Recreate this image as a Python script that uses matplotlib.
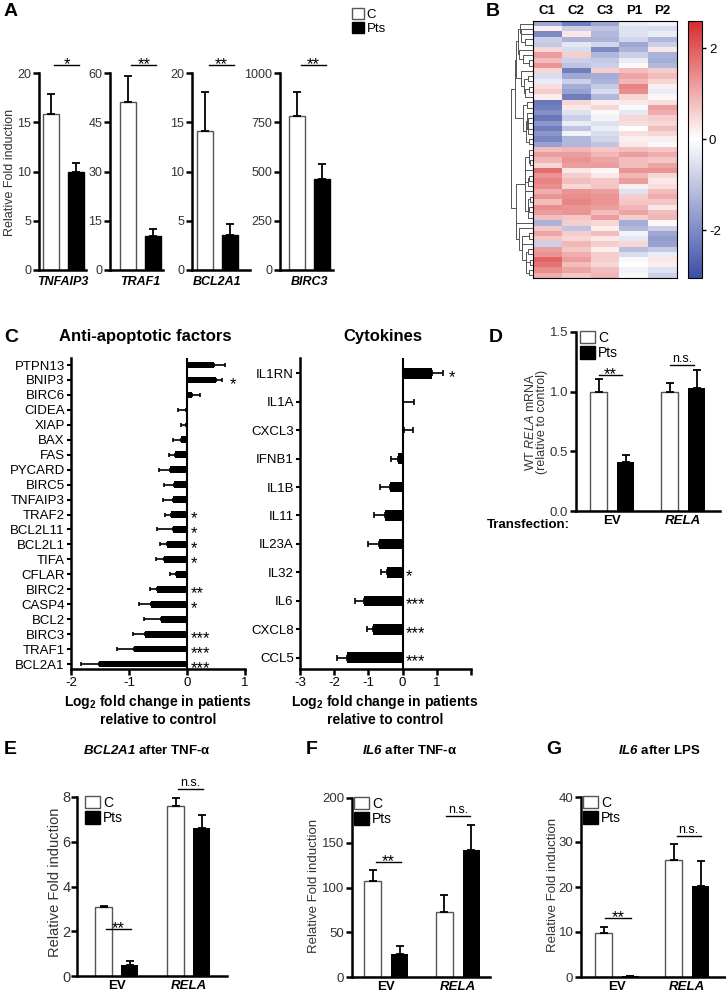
import numpy as np
import matplotlib
matplotlib.use('Agg')
import matplotlib.pyplot as plt
from matplotlib.colors import LinearSegmentedColormap, Normalize
from matplotlib.patches import Patch

plt.rcParams['font.family'] = ['Liberation Sans', 'DejaVu Sans']
plt.rcParams['axes.unicode_minus'] = False
plt.rcParams['mathtext.fontset'] = 'custom'
plt.rcParams['mathtext.rm'] = 'Liberation Sans'
plt.rcParams['mathtext.it'] = 'Liberation Sans:italic'
plt.rcParams['mathtext.bf'] = 'Liberation Sans:bold'
plt.rcParams['mathtext.bfit'] = 'Liberation Sans:italic:bold'

# ---- panel A data
a_genes = ['TNFAIP3', 'TRAF1', 'BCL2A1', 'BIRC3']
a_ctrl = [15.8, 51.3, 14.1, 780]
a_ctrl_err = [2.1, 7.7, 4.0, 125]
a_pts = [10.0, 10.3, 3.6, 460]
a_pts_err = [0.9, 2.2, 1.1, 80]
a_ymax = [20, 60, 20, 1000]
a_sig = ['*', '**', '**', '**']

# ---- panel B data (z-scores, rows top to bottom)
heat_cols = ['C1', 'C2', 'C3', 'P1', 'P2']
heat_rows = [
    [-1.5, -2.2, -1.5, -0.3, -0.2],
    [0.2, -0.8, -1.0, -0.5, -0.6],
    [-2.0, 0.3, -1.2, -0.5, -0.3],
    [-0.8, -1.3, -1.3, -0.7, -1.2],
    [-0.9, -0.4, -0.7, -1.5, -0.8],
    [0.5, -0.6, -2.0, -1.3, 0.3],
    [1.2, 0.6, -1.2, -0.8, -1.3],
    [0.8, -0.8, -0.9, -0.3, -1.4],
    [1.3, -1.0, -0.8, 0.1, -1.2],
    [0.5, -2.2, 0.6, 0.8, 0.6],
    [-0.6, -1.5, -1.4, 1.1, 0.8],
    [-0.3, -0.8, -1.3, 0.9, 0.5],
    [0.4, -1.4, -0.9, 1.5, 0.2],
    [0.6, -1.6, -0.6, 1.4, -0.3],
    [0.2, -2.2, -1.2, 0.5, 0.1],
    [-2.3, 0.5, 0.2, 0.3, 0.4],
    [-2.2, 0.3, 0.5, -0.1, 1.2],
    [-1.9, -0.5, 0.1, -0.4, 1.0],
    [-2.3, -0.8, -0.2, 0.5, 0.6],
    [-1.8, -0.3, -0.5, 0.4, 0.5],
    [-2.2, -1.0, -0.3, 0.0, 0.8],
    [-1.8, -0.2, -0.6, 0.4, 0.5],
    [-2.1, -1.2, -0.7, 0.2, 0.2],
    [-1.6, -1.2, -1.0, 0.3, -0.1],
    [0.8, 0.9, 0.7, 0.8, 0.7],
    [1.2, 1.2, 0.9, 1.2, 1.0],
    [0.9, 1.3, 1.1, 0.8, 0.7],
    [0.5, 1.2, 1.2, 0.8, 1.1],
    [1.8, 0.3, 0.1, 1.3, 1.3],
    [1.3, 0.6, 0.3, 0.9, 0.5],
    [1.5, 0.8, 0.7, 1.2, 0.3],
    [1.4, 0.5, 0.7, 0.2, 0.4],
    [1.0, 1.3, 1.2, -0.5, 0.8],
    [1.3, 1.4, 1.3, 0.6, 1.0],
    [0.8, 1.5, 1.3, 0.7, 0.7],
    [1.4, 1.3, 1.2, 0.9, 0.3],
    [1.2, 1.3, 0.8, 1.1, 0.8],
    [0.8, 0.7, 1.2, 0.6, 0.9],
    [-1.3, 0.6, 0.5, -1.4, 0.1],
    [0.7, -1.0, 0.2, -1.2, -0.8],
    [1.1, 0.6, 0.8, -0.2, -1.5],
    [0.7, 0.5, 0.3, -0.4, -1.7],
    [-0.8, 0.9, 0.6, 0.5, -1.6],
    [1.2, 0.7, 0.2, -1.1, -0.9],
    [1.3, 1.0, 0.6, -0.6, -0.3],
    [1.9, 1.2, 0.6, -0.1, 0.3],
    [1.7, 0.8, 0.5, 0.0, 0.2],
    [1.4, 1.1, 0.8, -0.2, -0.5],
    [1.0, 0.7, 0.9, -0.1, -0.8],
]

# ---- panel C data
apo_genes = ['PTPN13', 'BNIP3', 'BIRC6', 'CIDEA', 'XIAP', 'BAX', 'FAS', 'PYCARD',
             'BIRC5', 'TNFAIP3', 'TRAF2', 'BCL2L11', 'BCL2L1', 'TIFA', 'CFLAR',
             'BIRC2', 'CASP4', 'BCL2', 'BIRC3', 'TRAF1', 'BCL2A1']
apo_fc = [0.46, 0.50, 0.09, -0.01, -0.01, -0.10, -0.20, -0.30, -0.23, -0.25, -0.27,
          -0.25, -0.35, -0.40, -0.19, -0.51, -0.62, -0.45, -0.72, -0.92, -1.52]
apo_err = [0.19, 0.11, 0.13, 0.14, 0.09, 0.14, 0.11, 0.19, 0.17, 0.16, 0.11,
           0.27, 0.12, 0.13, 0.11, 0.12, 0.20, 0.29, 0.21, 0.28, 0.31]
apo_sig = ['', '*', '', '', '', '', '', '', '', '', '*', '*', '*', '*', '',
           '**', '*', '', '***', '***', '***']

cyt_genes = ['IL1RN', 'IL1A', 'CXCL3', 'IFNB1', 'IL1B', 'IL11', 'IL23A', 'IL32',
             'IL6', 'CXCL8', 'CCL5']
cyt_fc = [0.86, 0.0, 0.03, -0.14, -0.36, -0.51, -0.69, -0.46, -1.12, -0.87, -1.62]
cyt_err = [0.33, 0.34, 0.27, 0.19, 0.30, 0.32, 0.31, 0.17, 0.27, 0.18, 0.29]
cyt_sig = ['*', '', '', '', '', '', '', '*', '***', '***', '***']

# ---- panels D-G data (EV, RELA)
groups = ['EV', 'RELA']
d_c, d_c_err, d_p, d_p_err = [1.0, 1.0], [0.11, 0.07], [0.41, 1.03], [0.06, 0.15]
e_c, e_c_err, e_p, e_p_err = [3.1, 7.6], [0.05, 0.35], [0.5, 6.6], [0.15, 0.6]
f_c, f_c_err, f_p, f_p_err = [107, 73], [13, 19], [26, 142], [9, 28]
g_c, g_c_err, g_p, g_p_err = [9.8, 26], [1.4, 3.5], [0.2, 20.2], [0.1, 5.5]

W, H = 726, 993
fig = plt.figure(figsize=(W / 100, H / 100), dpi=100)
GRAY = '#333333'
STAR = 12


def box(x0, y0, x1, y1):
    return [x0 / W, 1 - y1 / H, (x1 - x0) / W, (y1 - y0) / H]


def fx(x):
    return x / W


def fy(y):
    return 1 - y / H


def style(ax, fs=9):
    for s in ['top', 'right']:
        ax.spines[s].set_visible(False)
    for s in ['left', 'bottom']:
        ax.spines[s].set_linewidth(1.8)
    ax.tick_params(width=1.8, length=4, labelsize=fs, labelcolor=GRAY, pad=1.5)


def sig(ax, x0, x1, y, txt):
    ax.plot([x0, x1], [y, y], color='k', lw=1, clip_on=False)
    if '*' in txt:
        ax.annotate(txt, xy=((x0 + x1) / 2, y), xytext=(0, -5), textcoords='offset points',
                    ha='center', va='bottom', fontsize=STAR, annotation_clip=False)
    else:
        ax.annotate(txt, xy=((x0 + x1) / 2, y), xytext=(0, 0), textcoords='offset points',
                    ha='center', va='bottom', fontsize=9, annotation_clip=False)


def legend(x, y, fs=10, hl=1.1, hh=1.0):
    h = [Patch(facecolor='white', edgecolor='#555555', lw=1),
         Patch(facecolor='black', edgecolor='black')]
    fig.legend(h, ['C', 'Pts'], loc='upper left', bbox_to_anchor=(fx(x), fy(y)),
               frameon=False, fontsize=fs, handlelength=hl, handleheight=hh,
               handletextpad=0.2, labelspacing=0.1, borderpad=0, borderaxespad=0)


def letter(x, y, s):
    fig.text(fx(x), fy(y), s, fontsize=14, fontweight='bold', ha='left', va='center')


# ---------------- A
a_px = [(39, 50.5, 86), (110, 127.5, 163), (192, 205, 250), (280, 297, 333)]
for i, (sp, wc, rt) in enumerate(a_px):
    ax = fig.add_axes(box(sp, 73, rt, 270))
    style(ax)
    ax.bar([0, 1], [a_ctrl[i], a_pts[i]], width=0.64, color=['white', 'black'],
           edgecolor=['#555555', 'black'], linewidth=1)
    ax.errorbar([0, 1], [a_ctrl[i], a_pts[i]], yerr=[[0, 0], [a_ctrl_err[i], a_pts_err[i]]],
                fmt='none', ecolor='k', elinewidth=1.3, capsize=3, capthick=1.3)
    ax.set_xlim(-(wc - sp) / 25, (rt - wc) / 25)
    ax.set_ylim(0, a_ymax[i])
    ax.set_yticks(np.linspace(0, a_ymax[i], 5))
    ax.set_xticks([0.5])
    ax.set_xticklabels([a_genes[i]], fontstyle='italic', fontweight='bold', color='k')
    ax.tick_params(axis='x', length=0, pad=4)
    sig(ax, 0.15, 1.15, a_ymax[i] * 1.04, a_sig[i])
fig.text(fx(10), fy(172), 'Relative Fold induction', rotation=90, ha='center',
         va='center', fontsize=9, color=GRAY)
legend(352, 8, fs=9.5, hl=0.9, hh=0.9)
letter(4, 12, 'A')

# ---------------- B
data = np.array(heat_rows)
n = len(data)
cmap = LinearSegmentedColormap.from_list(
    'bwr_b', [(0, '#3c4ea6'), (3.05 / 5.65, '#ffffff'), (1, '#d72c2c')])
norm = Normalize(vmin=-3.05, vmax=2.6)
hax = fig.add_axes(box(533, 21, 677, 278))
im = hax.imshow(data, aspect='auto', cmap=cmap, norm=norm, interpolation='nearest')
hax.set_xticks(range(5))
hax.set_xticklabels(heat_cols, fontweight='bold', fontsize=9.5)
hax.xaxis.tick_top()
hax.tick_params(axis='x', length=0, pad=3)
hax.set_yticks([])
for s in hax.spines.values():
    s.set_linewidth(0.8)


def ordered_tree(rows):
    # average-linkage clustering that only merges neighbouring clusters,
    # so the leaf order stays the heatmap row order
    clusters = [dict(m=[i], pos=float(i), h=0.0) for i in range(len(rows))]
    links = []
    while len(clusters) > 1:
        best = None
        for k in range(len(clusters) - 1):
            a, b = clusters[k], clusters[k + 1]
            d = np.mean([np.linalg.norm(rows[i] - rows[j]) for i in a['m'] for j in b['m']])
            if best is None or d < best[0]:
                best = (d, k)
        d, k = best
        a, b = clusters[k], clusters[k + 1]
        h = max(d, a['h'], b['h'])
        links.append((a['pos'], a['h'], b['pos'], b['h'], h))
        clusters[k:k + 2] = [dict(m=a['m'] + b['m'], pos=(a['pos'] + b['pos']) / 2, h=h)]
    return links


links = ordered_tree(data)
dax = fig.add_axes(box(511, 21, 533, 278))
for ya, ha, yb, hb, h in links:
    dax.plot([ha, h, h, hb], [ya, ya, yb, yb], color='#555555', lw=0.7)
dax.set_xlim(links[-1][4] * 1.02, 0)
dax.set_ylim(n - 0.5, -0.5)
dax.axis('off')

cax = fig.add_axes(box(688, 21, 702, 278))
cb = fig.colorbar(im, cax=cax, ticks=[-2, 0, 2])
cb.outline.set_linewidth(0.8)
cax.tick_params(length=3, width=1, labelsize=9.5, pad=2)
letter(486, 12, 'B')


# ---------------- C
def hbars(rect, genes, fc, err, sigs, xlim, ylim_pad, bh, cap, star_gap):
    ax = fig.add_axes(rect)
    style(ax)
    ax.tick_params(axis='y', labelcolor='k', length=3, width=1.5)
    ax.tick_params(axis='x', labelcolor='k', labelsize=9.5)
    y = np.arange(len(genes))
    lo = [e if v < 0 else 0 for v, e in zip(fc, err)]
    hi = [e if v >= 0 else 0 for v, e in zip(fc, err)]
    ax.barh(y, fc, height=bh, color='k', xerr=[lo, hi],
            error_kw=dict(ecolor='k', elinewidth=1.2, capsize=cap, capthick=1.2))
    ax.axvline(0, color='k', lw=1.5)
    ax.set_xlim(*xlim)
    ax.set_ylim(len(genes) - 1 + ylim_pad[1], -ylim_pad[0])
    ax.set_yticks(y)
    ax.set_yticklabels(genes, fontsize=9.5)
    ax.set_xticks(np.arange(xlim[0], xlim[1] + 0.5, 1))
    for yi, (v, e, s) in enumerate(zip(fc, err, sigs)):
        if not s:
            continue
        xs = v + e + star_gap if v > 0 else star_gap * 0.6
        ax.annotate(s, xy=(xs, yi), xytext=(0, -3), textcoords='offset points',
                    ha='left', va='center', fontsize=STAR)
    return ax


c1 = hbars(box(71, 358, 245, 669), apo_genes, apo_fc, apo_err, apo_sig,
           (-2, 1), (0.47, 0.33), 0.45, 1.5, 0.12)
c2 = hbars(box(300, 358, 471, 669), cyt_genes, cyt_fc, cyt_err, cyt_sig,
           (-3, 2), (0.53, 0.39), 0.38, 2.5, 0.15)
c2.set_xticklabels(['-3', '-2', '-1', '0', '1', ''])
fig.text(fx(145), fy(337), 'Anti-apoptotic factors', fontsize=12, fontweight='bold',
         ha='center', va='center')
fig.text(fx(383), fy(337), 'Cytokines', fontsize=12, fontweight='bold',
         ha='center', va='center')
for xc in (158, 385):
    fig.text(fx(xc), fy(710), 'Log$_\\mathbf{2}$ fold change in patients\nrelative to control',
             fontsize=10, fontweight='bold', ha='center', va='center', linespacing=1.2)
letter(4, 337, 'C')


# ---------------- D-G
def grouped(rect, xlim, c, ce, p, pe, ymax, yticks, off, w, fs=9.5):
    ax = fig.add_axes(rect)
    style(ax, fs)
    xc = np.arange(2)
    ax.bar(xc - off, c, w, color='white', edgecolor='#555555', linewidth=1)
    ax.bar(xc + off, p, w, color='black')
    ax.errorbar(np.r_[xc - off, xc + off], np.r_[c, p],
                yerr=[[0] * 4, list(ce) + list(pe)], fmt='none', ecolor='k',
                elinewidth=1.3, capsize=3, capthick=1.3)
    ax.set_xlim(*xlim)
    ax.set_ylim(0, ymax)
    ax.set_yticks(yticks)
    ax.set_xticks(xc)
    ax.set_xticklabels(groups, fontweight='bold', color='k', fontsize=9.5)
    ax.get_xticklabels()[1].set_fontstyle('italic')
    ax.tick_params(axis='x', length=0, pad=3)
    return ax


dx = grouped(box(576, 332, 720, 511), (-0.51, 1.52), d_c, d_c_err, d_p, d_p_err,
             1.5, [0, 0.5, 1.0, 1.5], 0.19, 0.24)
dx.set_yticklabels(['0.0', '0.5', '1.0', '1.5'])
sig(dx, -0.19, 0.14, 1.14, '**')
sig(dx, 0.82, 1.15, 1.22, 'n.s.')
fig.text(fx(530), fy(422), 'WT $\\mathit{RELA}$ mRNA', rotation=90, ha='center',
         va='center', fontsize=9, color=GRAY)
fig.text(fx(542), fy(422), '(relative to control)', rotation=90, ha='center',
         va='center', fontsize=9, color=GRAY)
fig.text(fx(570), fy(525), 'Transfection:', fontsize=9.5, fontweight='bold',
         ha='right', va='center')
legend(580, 331)
letter(489, 337, 'D')

ex = grouped(box(77, 797, 227, 976), (-0.555, 1.53), e_c, e_c_err, e_p, e_p_err,
             8, [0, 2, 4, 6, 8], 0.18, 0.236, fs=10.5)
ex.tick_params(axis='y', pad=0.5)
sig(ex, -0.15, 0.19, 2.1, '**')
sig(ex, 0.85, 1.19, 8.36, 'n.s.')
fig.text(fx(55), fy(882), 'Relative Fold induction', rotation=90, ha='center',
         va='center', fontsize=10.5, color=GRAY)
fig.text(fx(147), fy(750), '$\\mathbfit{BCL2A1}$ after TNF-α', fontsize=9.5,
         fontweight='bold', ha='center', va='center')
legend(85, 796)
letter(4, 750, 'E')

fx_ = grouped(box(352, 798, 490, 977), (-0.48, 1.45), f_c, f_c_err, f_p, f_p_err,
              200, [0, 50, 100, 150, 200], 0.19, 0.24)
sig(fx_, -0.15, 0.2, 128, '**')
sig(fx_, 0.83, 1.17, 180, 'n.s.')
fig.text(fx(314), fy(886), 'Relative Fold induction', rotation=90, ha='center',
         va='center', fontsize=9.5, color=GRAY)
fig.text(fx(410), fy(750), '$\\mathbfit{IL6}$ after TNF-α', fontsize=9.5,
         fontweight='bold', ha='center', va='center')
legend(354, 797)
letter(306, 750, 'F')

gx = grouped(box(581, 797, 726, 977), (-0.51, 1.55), g_c, g_c_err, g_p, g_p_err,
             40, [0, 10, 20, 30, 40], 0.19, 0.24)
sig(gx, -0.17, 0.2, 13.1, '**')
sig(gx, 0.85, 1.19, 31.3, 'n.s.')
fig.text(fx(553), fy(885), 'Relative Fold induction', rotation=90, ha='center',
         va='center', fontsize=9.5, color=GRAY)
fig.text(fx(659), fy(750), '$\\mathbfit{IL6}$ after LPS', fontsize=9.5,
         fontweight='bold', ha='center', va='center')
legend(583, 796)
letter(546, 750, 'G')

fig.savefig('out.png', dpi=100)
